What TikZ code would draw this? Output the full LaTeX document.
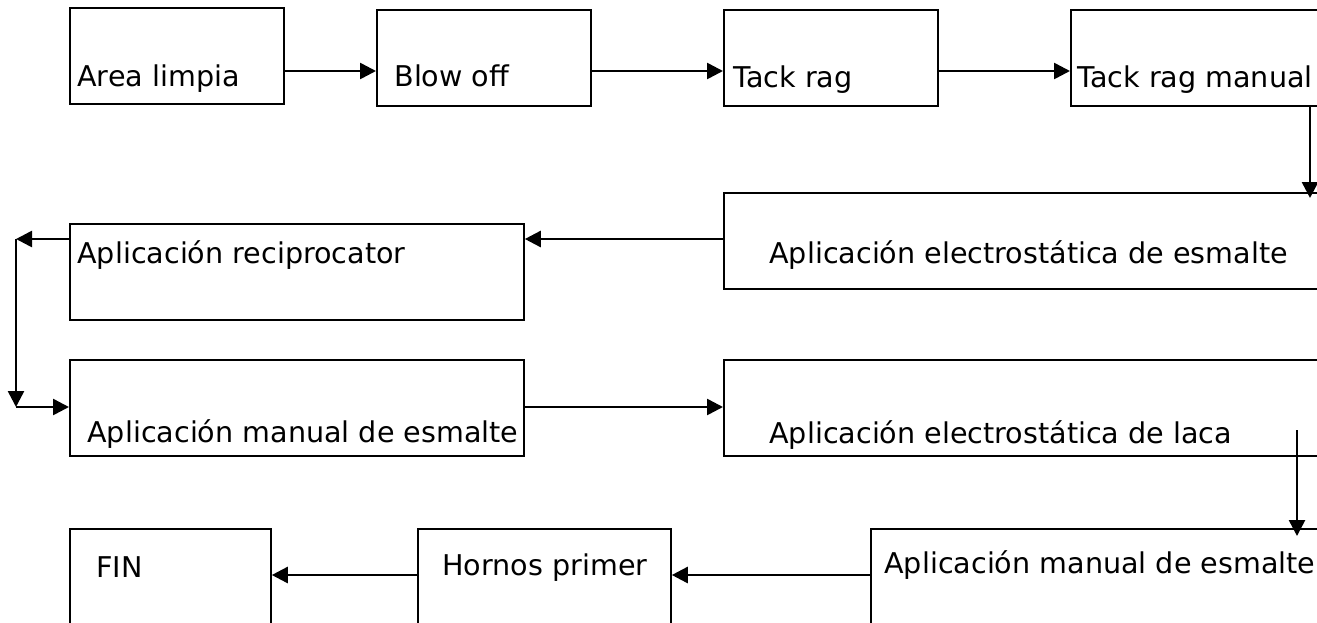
\documentclass[tikz,border=0pt]{standalone}
\usepackage{fontspec}
\setmainfont{DejaVu Sans}
\usetikzlibrary{arrows.meta}

\begin{document}
\begin{tikzpicture}[
    x=0.5pt, y=-0.5pt,
    stage/.style={draw, line width=0.9pt, anchor=north west, inner sep=0pt, minimum height=48pt},
    txt/.style={anchor=base west, inner sep=0pt, font=\fontsize{14.3}{17}\selectfont},
    arr/.style={-{Triangle[length=8pt,width=8pt]}, line width=1.3pt}
]
    \clip (0,0) rectangle (1317,622);

    % boxes, row by row
    \node[stage, minimum width=107pt] (area) at (69,7) {};
    \node[stage, minimum width=107pt] (blow) at (376,9) {};
    \node[stage, minimum width=107pt] (tack) at (723,9) {};
    \node[stage, minimum width=140pt] (tackman) at (1070,9) {};
    \node[stage, minimum width=314pt] (elesm) at (723,192) {};
    \node[stage, minimum width=227pt] (recip) at (69,223) {};
    \node[stage, minimum width=227pt] (manesm) at (69,359) {};
    \node[stage, minimum width=314pt] (ellaca) at (723,359) {};
    \node[stage, minimum width=100.5pt] (fin) at (69,528) {};
    \node[stage, minimum width=126.5pt] (horno) at (417,528) {};
    \node[stage, minimum width=240pt] (manesm2) at (870,528) {};

    % labels
    \node[txt] (t-area) at (77,86) {Area limpia};
    \node[txt] (t-blow) at (394,86) {Blow off};
    \node[txt] (t-tack) at (733,87) {Tack rag};
    \node[txt] (t-tackman) at (1077,87) {Tack rag manual};
    \node[txt] (t-elesm) at (769,263) {Aplicación electrostática de esmalte};
    \node[txt] (t-recip) at (77,263) {Aplicación reciprocator};
    \node[txt] (t-manesm) at (87,442) {Aplicación manual de esmalte};
    \node[txt] (t-ellaca) at (769,443) {Aplicación electrostática de laca};
    \node[txt] (t-fin) at (96,577) {FIN};
    \node[txt] (t-horno) at (442,575) {Hornos primer};
    \node[txt] (t-manesm2) at (884,573) {Aplicación manual de esmalte};

    \coordinate (turnup) at (16,239);
    \coordinate (turndown) at (16,407);
    \coordinate (lacadrop) at (1297,430);

    \draw[arr] (area.east |- 0,71) -- (blow.west |- 0,71);
    \draw[arr] (blow.east |- 0,71) -- (tack.west |- 0,71);
    \draw[arr] (tack.east |- 0,71) -- (tackman.west |- 0,71);
    \draw[arr, shorten >=-3pt] (tackman.south -| 1310,0) -- (elesm.north -| 1310,0);
    \draw[arr] (elesm.west |- 0,239) -- (recip.east |- 0,239);
    \draw[arr] (recip.west |- 0,239) -- (turnup);
    \draw[arr] (turnup) -- (turndown);
    \draw[arr] (turndown) -- (manesm.west |- 0,407);
    \draw[arr] (manesm.east |- 0,407) -- (ellaca.west |- 0,407);
    \draw[arr, shorten >=-4pt] (lacadrop) -- (manesm2.north -| 1297,0);
    \draw[arr] (manesm2.west |- 0,575) -- (horno.east |- 0,575);
    \draw[arr] (horno.west |- 0,575) -- (fin.east |- 0,575);
\end{tikzpicture}
\end{document}
